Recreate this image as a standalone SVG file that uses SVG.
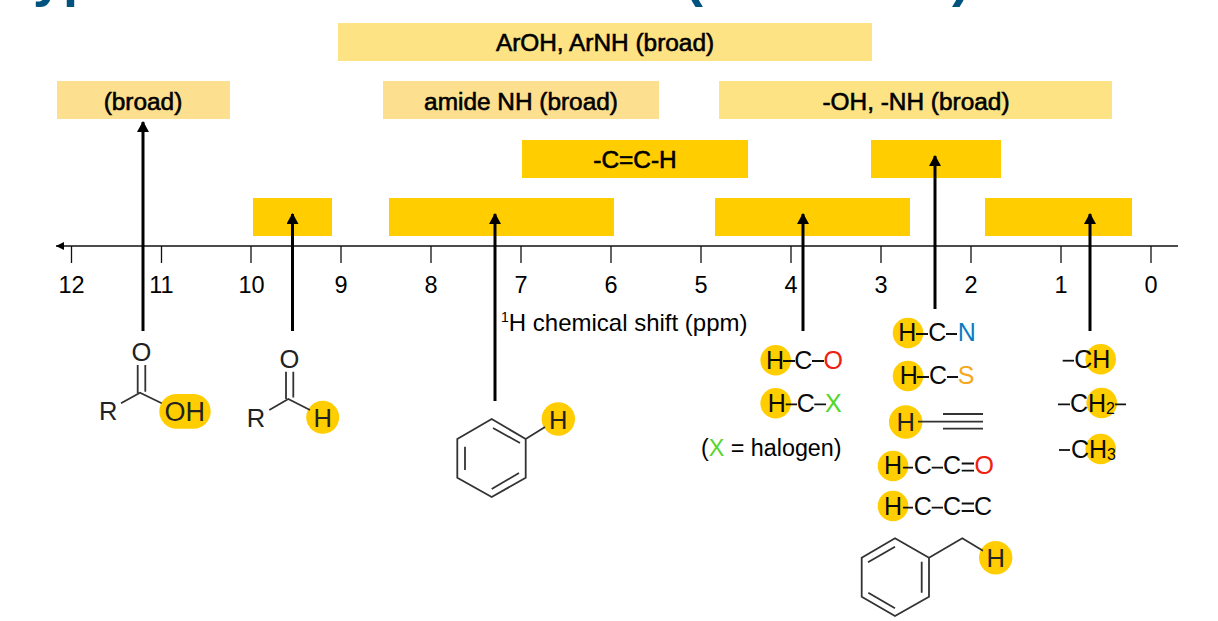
<svg xmlns="http://www.w3.org/2000/svg" width="1218" height="621" viewBox="0 0 1218 621">
<style>
text{font-family:"Liberation Sans",Arial,sans-serif;fill:#000}
.t{fill:#00527f;font-weight:700;font-size:54px}
.lb{font-size:24.400px;text-anchor:middle;stroke:#000;stroke-width:.6px}
.n{font-size:23.500px;text-anchor:middle}
.c{font-size:25px;text-anchor:middle;fill:#0a0a0a}
.s{font-size:25.500px;text-anchor:middle;fill:#222}
.pale{fill:#fde383}.pale2{fill:#fde08f}.gold{fill:#ffcd00}
.tick{stroke:#111;stroke-width:1.300;fill:none}
.ar{stroke:#000;stroke-width:3;fill:none;marker-end:url(#ah)}
.b{stroke:#333;stroke-width:1.800;fill:none}
.k{stroke:#111;stroke-width:1.800;fill:none}
.grn{fill:#55d62a}
</style>
<defs>
<marker id="ah" markerUnits="userSpaceOnUse" markerWidth="12" markerHeight="13" refX="10" refY="6" orient="auto"><path d="M0,0L11,6L0,12z" fill="#000"/></marker>
<marker id="ax" markerUnits="userSpaceOnUse" markerWidth="10" markerHeight="8" refX="8" refY="4" orient="auto"><path d="M0,0L8,4L0,8z" fill="#000"/></marker>
</defs>
<g id="title"><text class="t" x="33" y="-4">yp</text><text class="t" x="685" y="-4">(</text><text class="t" x="952" y="-4">)</text></g>
<g id="band-aroh"><rect class="pale" x="338" y="23" width="534" height="38"/><text class="lb" x="605" y="51">ArOH, ArNH (broad)</text></g>
<g id="band-broad"><rect class="pale2" x="57" y="81" width="173" height="38"/><text class="lb" x="143" y="110">(broad)</text></g>
<g id="band-amide"><rect class="pale2" x="383" y="81" width="276" height="38"/><text class="lb" x="521" y="110">amide NH (broad)</text></g>
<g id="band-oh"><rect class="pale" x="719" y="81" width="393" height="38"/><text class="lb" x="916" y="110">-OH, -NH (broad)</text></g>
<g id="band-alkyne"><rect class="gold" x="522" y="140" width="226" height="38"/><text class="lb" x="635" y="168">-C=C-H</text></g>
<g id="band-allyl"><rect class="gold" x="871" y="140" width="130" height="38"/></g>
<g id="band-aldehyde"><rect class="gold" x="253" y="198" width="79" height="38"/></g>
<g id="band-aromatic"><rect class="gold" x="389" y="198" width="225" height="38"/></g>
<g id="band-hco"><rect class="gold" x="715" y="198" width="195" height="38"/></g>
<g id="band-alkyl"><rect class="gold" x="985" y="198" width="147" height="38"/></g>
<g id="axis">
<path d="M1178,246H56" stroke="#111" stroke-width="1.500" fill="none" marker-end="url(#ax)"/>
<path class="tick" d="M71.500,246V263M161.500,246V263M251,246V263M341,246V263M431,246V263M521,246V263M611,246V263M701,246V263M791,246V263M881,246V263M971,246V263M1061,246V263M1151,246V263"/>
<text class="n" x="71.500" y="293">12</text><text class="n" x="161.500" y="293">11</text><text class="n" x="251.500" y="293">10</text><text class="n" x="341" y="293">9</text><text class="n" x="431" y="293">8</text><text class="n" x="521" y="293">7</text><text class="n" x="611" y="293">6</text><text class="n" x="701" y="293">5</text><text class="n" x="791" y="293">4</text><text class="n" x="881" y="293">3</text><text class="n" x="971" y="293">2</text><text class="n" x="1061" y="293">1</text><text class="n" x="1151" y="293">0</text>
<text x="501" y="331" font-size="24"><tspan font-size="14" dy="-9">1</tspan><tspan dy="9">H chemical shift (ppm)</tspan></text>
</g>
<g id="connectors">
<path class="ar" d="M143,331V122"/>
<path class="ar" d="M292.500,331V214"/>
<path class="ar" d="M495,401V214"/>
<path class="ar" d="M803,331V214"/>
<path class="ar" d="M935,309V156"/>
<path class="ar" d="M1090,331V214"/>
</g>
<g id="mol-acid">
<rect class="gold" x="159.300" y="394" width="51.400" height="34.700" rx="17.300"/>
<path class="b" d="M121,403.300L140,392.700L161.700,403.300M137.700,365V393M145.300,365V391.700"/>
<text class="s" x="108.300" y="420">R</text><text class="s" x="141.300" y="361">O</text><text class="s" style="font-size:27px" x="184.700" y="420.500">OH</text>
</g>
<g id="mol-aldehyde">
<circle class="gold" cx="322.700" cy="417.300" r="16.500"/>
<path class="b" d="M269.300,410L288.300,399L310,410M286,371.700V399M293.300,371.700V397.500"/>
<text class="s" x="256" y="426.700">R</text><text class="s" x="289.300" y="368">O</text><text class="s" x="322.700" y="426.700">H</text>
</g>
<g id="mol-benzene">
<circle class="gold" cx="558.300" cy="419" r="16.700"/>
<path class="b" d="M491.700,419L525.700,439V477.700L491.700,497L457.300,477.700V439ZM493,428L520,443M519,473L491.700,489M465,446.700V470M525.700,439L545,427"/>
<text class="s" x="558.300" y="428.500">H</text>
</g>
<g id="mol-hco">
<circle class="gold" cx="775.700" cy="360.300" r="15.300"/>
<text class="c" x="775" y="368.600">H</text><path class="k" d="M783,361H795M812,361H824"/><text class="c" x="803.300" y="368.600">C</text><text class="c" style="fill:#f02010" x="833.300" y="368.600">O</text>
</g>
<g id="mol-hcx">
<circle class="gold" cx="775.700" cy="403.300" r="15.300"/>
<text class="c" x="776.700" y="412">H</text><path class="k" d="M785.700,404.300H797M814.300,404.300H826"/><text class="c" x="805.700" y="412">C</text><text class="c" style="fill:#55d62a" x="833.300" y="412">X</text>
</g>
<g id="note-halogen"><text x="701" y="456" font-size="23.300">(<tspan class="grn">X</tspan> = halogen)</text></g>
<g id="mol-hcn">
<circle class="gold" cx="908" cy="333" r="15.300"/>
<text class="c" x="907.300" y="341">H</text><path class="k" d="M916,334H928M946,334H957"/><text class="c" x="937.300" y="341">C</text><text class="c" style="fill:#0a7cc2" x="966.700" y="341">N</text>
</g>
<g id="mol-hcs">
<circle class="gold" cx="908" cy="376" r="15.300"/>
<text class="c" x="908.700" y="384.300">H</text><path class="k" d="M917,377H929M947,377H958"/><text class="c" x="938" y="384.300">C</text><text class="c" style="fill:#f5a81c" x="966" y="384.300">S</text>
</g>
<g id="mol-alkyne">
<circle class="gold" cx="905.700" cy="422" r="16.700"/>
<text class="s" x="905.700" y="431">H</text>
<path class="b" d="M918,421.700H983M943,414H983M943,428.700H983"/>
</g>
<g id="mol-hccc-o">
<circle class="gold" cx="893" cy="466" r="15.300"/>
<text class="c" x="893" y="474.300">H</text><path class="k" d="M903,467.700H913M931.700,467.700H943M961.700,463.500H974M961.700,470.700H974"/><text class="c" x="922.700" y="474.300">C</text><text class="c" x="952" y="474.300">C</text><text class="c" style="fill:#f02010" x="984.300" y="474.300">O</text>
</g>
<g id="mol-hccc-c">
<circle class="gold" cx="893" cy="506" r="15.300"/>
<text class="c" x="893" y="514.600">H</text><path class="k" d="M903,507.700H913M931.700,507.700H943M961.700,503.500H974M961.700,511H974"/><text class="c" x="922.700" y="514.600">C</text><text class="c" x="952" y="514.600">C</text><text class="c" x="983" y="514.600">C</text>
</g>
<g id="mol-benzyl">
<circle class="gold" cx="995.700" cy="557.700" r="16.700"/>
<path class="b" d="M895,538.300L929,557.700V596.700L895,616L861.700,596.700V557.700ZM895,546.700L868,562.300M921.700,561.700V592.700M895,608.300L868.300,592.700M929,557.700L962.300,538.300L983,550.700"/>
<text class="s" x="995.700" y="567">H</text>
</g>
<g id="mol-ch">
<circle class="gold" cx="1100.700" cy="359.300" r="15.300"/>
<path class="k" d="M1062.700,360.700H1074"/><text class="c" x="1092.300" y="368.300">CH</text>
</g>
<g id="mol-ch2">
<circle class="gold" cx="1101.700" cy="403" r="15.300"/>
<path class="k" d="M1058,404.300H1070M1115,404.300H1126"/><text class="c" style="text-anchor:start" x="1070" y="412">CH<tspan font-size="16" dy="2">2</tspan></text>
</g>
<g id="mol-ch3">
<circle class="gold" cx="1100.700" cy="449" r="15.300"/>
<path class="k" d="M1059,450H1070"/><text class="c" style="text-anchor:start" x="1071" y="457.600">CH<tspan font-size="16" dy="2">3</tspan></text>
</g>
</svg>
